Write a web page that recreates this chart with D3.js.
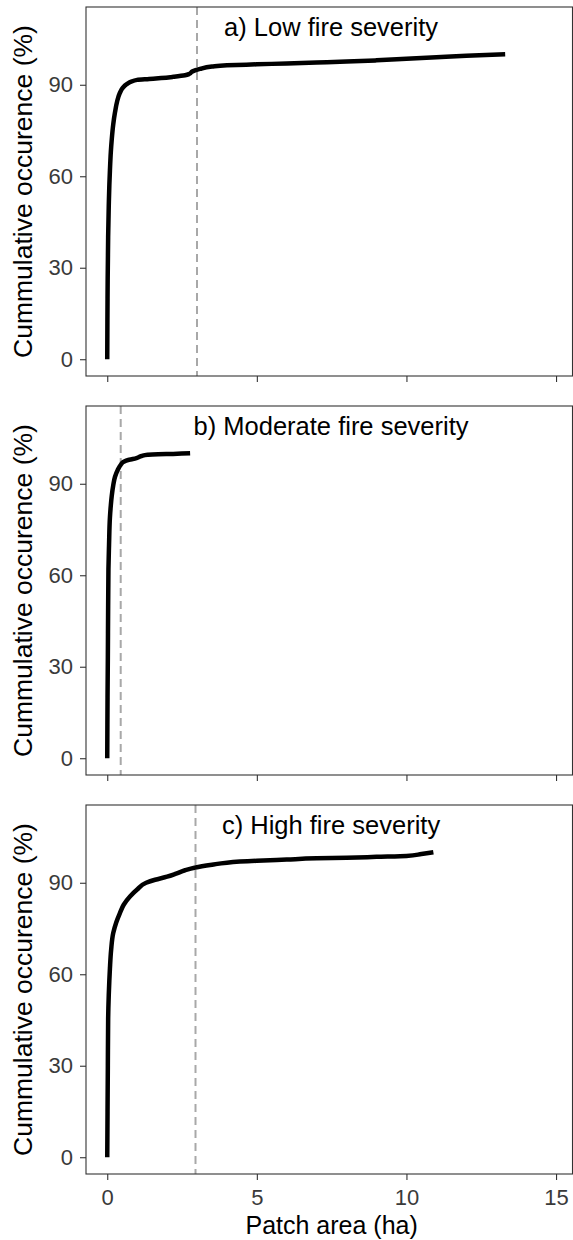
<!DOCTYPE html>
<html><head><meta charset="utf-8">
<script src="https://cdn.jsdelivr.net/npm/d3@7"></script>
<style>body{margin:0;background:#fff}svg{display:block}</style>
</head><body>
<script>
// Panel labels and threshold lines
const panelLabels = ["a) Low fire severity", "b) Moderate fire severity", "c) High fire severity"];
const thresholds = [3.0, 0.45, 2.95];
const xTicks = [0, 5, 10, 15];
const yTicks = [0, 30, 60, 90];
// Cumulative curves: patch area (ha) and cumulative occurrence (%)
const lowArea = [0,0.01,0.03,0.05,0.07,0.09,0.12,0.15,0.2,0.26,0.33,0.42,0.52,0.65,0.8,1.0,1.4,1.8,2.2,2.6,2.75,2.85,3.1,3.5,4,5,6,7,8,9,10,11,12,13.3];
const lowCum  = [0,20,40,50,57,62,68,72,77,81,84.5,87.3,89,90.2,91,91.6,91.9,92.2,92.6,93.1,93.6,94.4,95.2,96,96.4,96.7,97,97.3,97.6,98,98.5,99,99.5,100];
const modArea = [0,0.01,0.02,0.03,0.04,0.06,0.09,0.12,0.15,0.2,0.26,0.35,0.45,0.55,0.7,0.85,1.0,1.15,1.35,1.7,2.2,2.77];
const modCum  = [0,20,33,50,62,70,79,83,86,89.5,92.3,94.5,96.2,97.2,97.8,98.1,98.5,99.1,99.5,99.7,99.8,100];
const highArea = [0,0.01,0.02,0.03,0.05,0.07,0.09,0.13,0.2,0.3,0.42,0.55,0.76,1.0,1.3,1.6,2.0,2.3,2.6,2.95,3.5,4,5,6,7,8,9,10,10.5,10.9];
const highCum  = [0,15,30,45,53,58,62,68,73.5,77,80,82.8,85.5,87.8,90,91,92,93,94.1,95,95.9,96.6,97.2,97.6,98,98.2,98.5,98.8,99.4,100];

const W = 573, H = 1240;
const left = 86, right = 572.5;
const tops = [7, 406, 805], panelH = 369;
const font = "'Liberation Sans', Arial, Helvetica, sans-serif";

const svg = d3.select("body").append("svg").attr("width", W).attr("height", H);
const x = d3.scaleLinear().domain([-0.71, 15.55]).range([left, right]);

const series = [[lowArea, lowCum], [modArea, modCum], [highArea, highCum]];

series.forEach((s, i) => {
  const top = tops[i], bottom = top + panelH;
  const y = d3.scaleLinear().domain([-5.5, 115.5]).range([bottom, top]);
  const g = svg.append("g");
  // threshold
  g.append("line").attr("x1", x(thresholds[i])).attr("x2", x(thresholds[i]))
    .attr("y1", top).attr("y2", bottom)
    .attr("stroke", "#a8a8a8").attr("stroke-width", 2).attr("stroke-dasharray", "8,5");
  // curve
  const pts = s[0].map((v, k) => [v, s[1][k]]);
  g.append("path").datum(pts)
    .attr("d", d3.line().x(d => x(d[0])).y(d => y(d[1])).curve(d3.curveMonotoneY))
    .attr("fill", "none").attr("stroke", "#000").attr("stroke-width", 4.5)
    .attr("stroke-linecap", "butt").attr("stroke-linejoin", "round");
  // border
  g.append("rect").attr("x", left).attr("y", top).attr("width", right - left).attr("height", panelH)
    .attr("fill", "none").attr("stroke", "#333").attr("stroke-width", 1.1);
  // axes
  const ya = g.append("g").attr("transform", `translate(${left},0)`)
    .call(d3.axisLeft(y).tickValues(yTicks).tickSize(6).tickPadding(7));
  const xa = g.append("g").attr("transform", `translate(0,${bottom})`)
    .call(d3.axisBottom(x).tickValues(xTicks).tickSize(6).tickPadding(9)
      .tickFormat(i === 2 ? d3.format("d") : () => ""));
  [ya, xa].forEach(a => {
    a.select(".domain").remove();
    a.selectAll(".tick line").attr("stroke", "#333").attr("stroke-width", 1.1);
    a.selectAll(".tick text").attr("fill", "#3a3a3a").attr("font-size", 22).attr("font-family", font);
  });
  // y title
  g.append("text").attr("transform", `translate(23,${(top + bottom) / 2}) rotate(-90)`)
    .attr("text-anchor", "middle").attr("dominant-baseline", "central")
    .attr("font-family", font).attr("font-size", 26.5).attr("fill", "#000")
    .text("Cummulative occurence (%)");
  // panel label
  g.append("text").attr("x", x(7.48)).attr("y", y(109))
    .attr("text-anchor", "middle").attr("dominant-baseline", "central")
    .attr("font-family", font).attr("font-size", 25.5).attr("fill", "#000")
    .text(panelLabels[i]);
});

svg.append("text").attr("x", x(7.5)).attr("y", 1225)
  .attr("text-anchor", "middle").attr("dominant-baseline", "central")
  .attr("font-family", font).attr("font-size", 25).attr("fill", "#000")
  .text("Patch area (ha)");
</script>
</body></html>
